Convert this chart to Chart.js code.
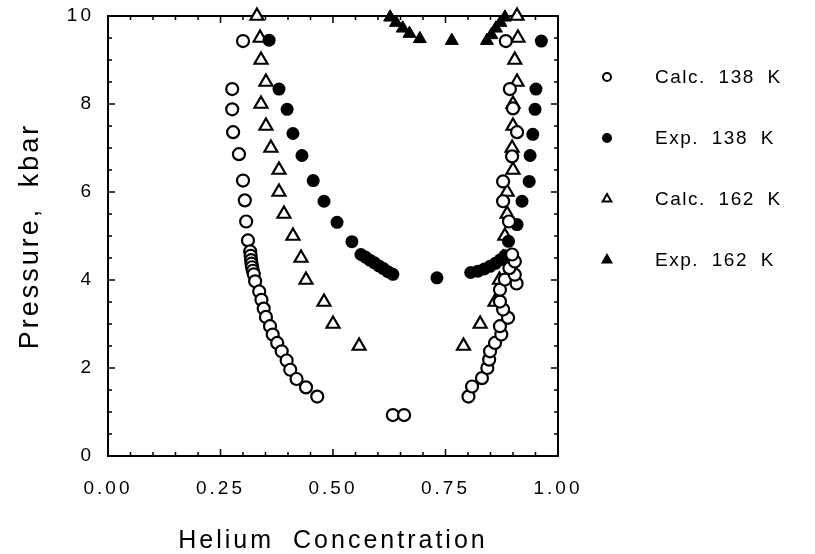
<!DOCTYPE html>
<html>
<head>
<meta charset="utf-8">
<script src="https://cdn.jsdelivr.net/npm/chart.js@4.4.1/dist/chart.umd.min.js"></script>
<style>
  html, body { margin: 0; padding: 0; background: #fff; }
  #wrap { width: 815px; height: 554px; }
</style>
</head>
<body>
<div id="wrap"><canvas id="chart" width="815" height="554"></canvas></div>
<script>
// tick labels
const xTickLabels = ['0.00', '0.25', '0.50', '0.75', '1.00'];
const yTickLabels = ['0', '2', '4', '6', '8', '10'];

// Calc. 138 K (open circles)
const calc138X = [0.300, 0.276, 0.276, 0.278, 0.291, 0.300, 0.304, 0.307, 0.311, 0.316, 0.317, 0.318, 0.319, 0.320, 0.322, 0.324,
  0.327, 0.336, 0.341, 0.346, 0.351, 0.360, 0.366, 0.376, 0.386, 0.397, 0.405, 0.419, 0.440, 0.465,
  0.633, 0.658,
  0.801, 0.809, 0.831, 0.843, 0.847, 0.849, 0.860, 0.874, 0.871, 0.889, 0.878, 0.871, 0.871, 0.882, 0.908, 0.904, 0.892, 0.904, 0.898,
  0.891, 0.878, 0.878, 0.898, 0.909, 0.900, 0.893, 0.884];
const calc138Y = [9.43, 8.34, 7.88, 7.36, 6.86, 6.26, 5.81, 5.33, 4.90, 4.65, 4.55, 4.45, 4.37, 4.29, 4.21, 4.13,
  3.97, 3.74, 3.55, 3.35, 3.16, 2.95, 2.76, 2.57, 2.38, 2.17, 1.96, 1.75, 1.56, 1.35,
  0.93, 0.93,
  1.35, 1.58, 1.77, 2.00, 2.19, 2.38, 2.57, 2.76, 2.95, 3.14, 3.33, 3.51, 3.78, 4.01, 3.92, 4.12, 4.27, 4.42, 4.58,
  5.33, 5.79, 6.24, 6.81, 7.36, 7.90, 8.34, 9.43];

// Exp. 138 K (filled circles)
const exp138X = [0.358, 0.380, 0.398, 0.411, 0.431, 0.456, 0.480, 0.509, 0.542, 0.562, 0.572, 0.582, 0.592, 0.602, 0.612, 0.622, 0.633,
  0.731,
  0.806, 0.822, 0.836, 0.849, 0.861, 0.872, 0.882, 0.890,
  0.909, 0.920, 0.936, 0.938, 0.944, 0.949, 0.951, 0.963];
const exp138Y = [9.45, 8.34, 7.88, 7.33, 6.83, 6.26, 5.79, 5.31, 4.87, 4.58, 4.52, 4.45, 4.39, 4.32, 4.26, 4.19, 4.13,
  4.05,
  4.17, 4.20, 4.25, 4.31, 4.38, 4.46, 4.55, 4.88,
  5.26, 5.79, 6.24, 6.83, 7.31, 7.88, 8.34, 9.43];

// Calc. 162 K (open triangles)
const calc162X = [0.331, 0.338, 0.340, 0.351, 0.340, 0.351, 0.362, 0.380, 0.380, 0.391, 0.411, 0.429, 0.440, 0.480, 0.500, 0.558,
  0.790, 0.827, 0.860, 0.870, 0.878, 0.882, 0.887, 0.887, 0.900, 0.898, 0.900, 0.900, 0.909, 0.904, 0.911, 0.909];
const calc162Y = [10.0, 9.5, 9.0, 8.5, 8.0, 7.5, 7.0, 6.5, 6.0, 5.5, 5.0, 4.5, 4.0, 3.5, 3.0, 2.5,
  2.5, 3.0, 3.5, 4.0, 4.5, 5.0, 5.5, 6.0, 6.5, 7.0, 7.5, 8.0, 8.5, 9.0, 9.5, 10.0];

// Exp. 162 K (filled triangles)
const exp162X = [0.627, 0.640, 0.655, 0.670, 0.693, 0.764, 0.842, 0.852, 0.862, 0.872, 0.882];
const exp162Y = [9.97, 9.85, 9.72, 9.60, 9.48, 9.44, 9.44, 9.57, 9.72, 9.85, 9.97];

const pts = (xs, ys) => xs.map((x, i) => ({ x: x, y: ys[i] }));

const FONT = '"Liberation Sans", Arial, sans-serif';

// letter and word spacing for canvas text (the original uses wide spacing)
function spacing(ctx, letter, word) {
  ctx.letterSpacing = letter + 'px';
  ctx.wordSpacing = word + 'px';
}

const spacingPlugin = {
  id: 'spacing',
  beforeUpdate(chart) { spacing(chart.ctx, 3, 9); },
  beforeDraw(chart) { spacing(chart.ctx, 3, 9); }
};

// box round the plot with small inward ticks on all four sides
const framePlugin = {
  id: 'frame',
  beforeDatasetsDraw(chart) {
    const { ctx, chartArea: a, scales } = chart;
    const x = scales.x, y = scales.y;
    ctx.save();
    ctx.strokeStyle = '#000';
    ctx.lineWidth = 2;
    ctx.strokeRect(a.left, a.top, a.right - a.left, a.bottom - a.top);
    ctx.lineWidth = 1.5;
    ctx.beginPath();
    for (let i = 0; i <= 20; i++) {
      const px = x.getPixelForValue(i * 0.05);
      const len = i % 5 === 0 ? 7 : 4;
      ctx.moveTo(px, a.bottom); ctx.lineTo(px, a.bottom - len);
      ctx.moveTo(px, a.top); ctx.lineTo(px, a.top + len);
    }
    for (let i = 0; i <= 20; i++) {
      const py = y.getPixelForValue(i * 0.5);
      const len = i % 4 === 0 ? 7 : 4;
      ctx.moveTo(a.left, py); ctx.lineTo(a.left + len, py);
      ctx.moveTo(a.right, py); ctx.lineTo(a.right - len, py);
    }
    ctx.stroke();
    ctx.restore();
  }
};

// legend to the right of the plot
const legendPlugin = {
  id: 'sideLegend',
  afterDraw(chart) {
    const { ctx, chartArea: a } = chart;
    ctx.save();
    spacing(ctx, 1.5, 6);
    ctx.font = '19px ' + FONT;
    ctx.textBaseline = 'middle';
    ctx.textAlign = 'left';
    chart.data.datasets.forEach((ds, i) => {
      const cy = 77 + i * 61;
      const cx = a.right + 49;
      ctx.fillStyle = ds.pointBackgroundColor;
      ctx.strokeStyle = '#000';
      ctx.lineWidth = 2;
      Chart.helpers.drawPoint(ctx, { pointStyle: ds.pointStyle, radius: ds.pointStyle === 'triangle' ? 5 : 4, borderWidth: 2, rotation: 0 }, cx, cy);
      ctx.fillStyle = '#000';
      ctx.fillText(ds.label, a.right + 97, cy + 1);
    });
    ctx.restore();
  }
};

new Chart(document.getElementById('chart'), {
  type: 'scatter',
  data: {
    datasets: [
      { label: 'Calc. 138 K', data: pts(calc138X, calc138Y), pointStyle: 'circle', pointRadius: 6,
        pointBackgroundColor: '#fff', pointBorderColor: '#000', pointBorderWidth: 2.2, clip: false },
      { label: 'Exp. 138 K', data: pts(exp138X, exp138Y), pointStyle: 'circle', pointRadius: 6.5,
        pointBackgroundColor: '#000', pointBorderColor: '#000', pointBorderWidth: 0, clip: false },
      { label: 'Calc. 162 K', data: pts(calc162X, calc162Y), pointStyle: 'triangle', pointRadius: 7.5,
        pointBackgroundColor: '#fff', pointBorderColor: '#000', pointBorderWidth: 2.2, clip: false },
      { label: 'Exp. 162 K', data: pts(exp162X, exp162Y), pointStyle: 'triangle', pointRadius: 7.5,
        pointBackgroundColor: '#000', pointBorderColor: '#000', pointBorderWidth: 1, clip: false }
    ]
  },
  options: {
    responsive: false,
    animation: false,
    layout: { padding: { top: 16, right: 257, left: 0, bottom: 0 } },
    plugins: { legend: { display: false }, tooltip: { enabled: false } },
    scales: {
      x: {
        type: 'linear', min: 0, max: 1,
        grid: { display: false, drawTicks: false },
        border: { display: false },
        ticks: {
          stepSize: 0.25, padding: 21, color: '#000', font: { family: FONT, size: 19 },
          callback: (v) => xTickLabels[Math.round(v / 0.25)]
        },
        title: { display: true, text: 'Helium Concentration', color: '#000',
          font: { family: FONT, size: 25, lineHeight: 1 }, padding: { top: 0, bottom: 0 } },
        afterFit: (s) => { s.height = 98; s.paddingLeft = 0; s.paddingRight = 0; }
      },
      y: {
        type: 'linear', min: 0, max: 10,
        grid: { display: false, drawTicks: false },
        border: { display: false },
        ticks: {
          stepSize: 2, padding: 14, color: '#000', font: { family: FONT, size: 19 },
          callback: (v) => yTickLabels[Math.round(v / 2)]
        },
        title: { display: true, text: 'Pressure, kbar', color: '#000',
          font: { family: FONT, size: 27 }, padding: { top: 14, bottom: 0 } },
        afterFit: (s) => { s.width = 108; s.paddingTop = 0; s.paddingBottom = 0; }
      }
    }
  },
  plugins: [spacingPlugin, framePlugin, legendPlugin]
});
</script>
</body>
</html>
